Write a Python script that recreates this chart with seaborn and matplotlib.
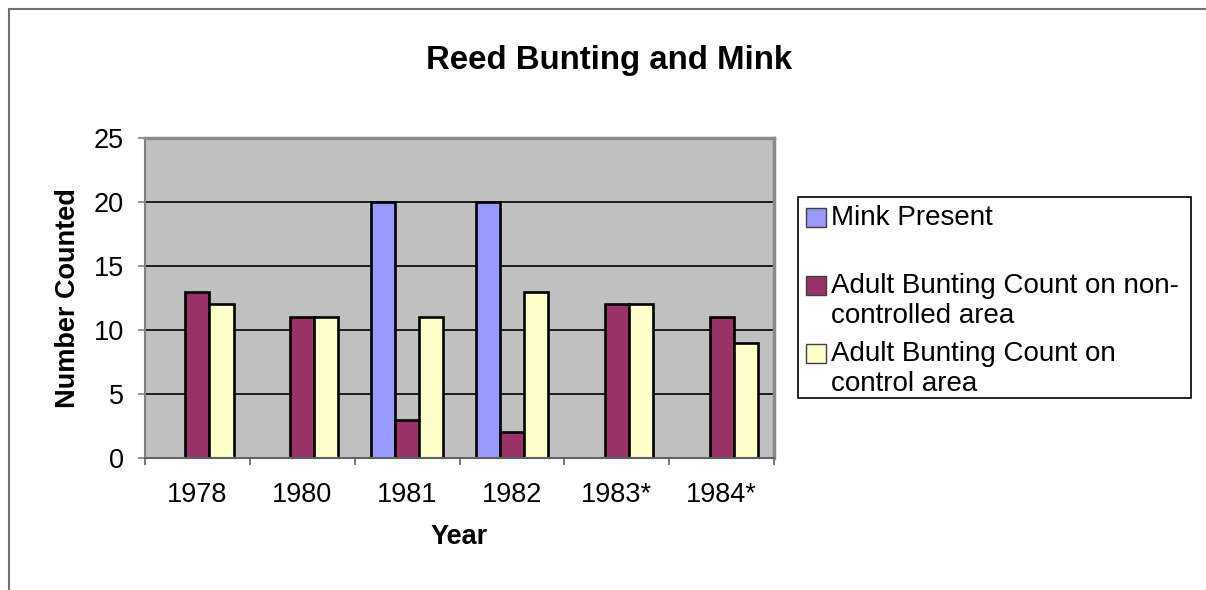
import matplotlib
matplotlib.use("Agg")
import matplotlib.pyplot as plt
import numpy as np
import pandas as pd
import seaborn as sns
from matplotlib.patches import Rectangle
from matplotlib.legend_handler import HandlerPatch

# ---- data ----
years = ["1978", "1980", "1981", "1982", "1983*", "1984*"]
mink_present = [np.nan, np.nan, 20, 20, np.nan, np.nan]
count_non_controlled = [13, 11, 3, 2, 12, 11]
count_control = [12, 11, 11, 13, 12, 9]

series_names = [
    "Mink Present",
    "Adult Bunting Count on non-controlled area",
    "Adult Bunting Count on control area",
]
legend_labels = [
    "Mink Present\n",
    "Adult Bunting Count on non-\ncontrolled area",
    "Adult Bunting Count on\ncontrol area",
]
series_colors = ["#9999FF", "#993366", "#FFFFCC"]

df = pd.DataFrame({
    "Year": years * 3,
    "Series": np.repeat(series_names, len(years)),
    "Count": mink_present + count_non_controlled + count_control,
})

sns.set_style("white")
plt.rcParams["font.family"] = ["Liberation Sans", "DejaVu Sans"]
plt.rcParams["text.color"] = "black"
plt.rcParams["axes.labelcolor"] = "black"
plt.rcParams["xtick.color"] = "black"
plt.rcParams["ytick.color"] = "black"

W, H = 1206, 590
fig = plt.figure(figsize=(W / 100, H / 100), dpi=100)

# outer chart-area border
fig.add_artist(Rectangle((8.5 / W, -0.05), 1.2, 1 - 8.5 / H + 0.05,
                         transform=fig.transFigure, fill=False,
                         edgecolor="#707070", lw=1.5))

ax = fig.add_axes([145 / W, 132 / H, 629 / W, 320 / H])
ax.set_facecolor("#C0C0C0")

sns.barplot(data=df, x="Year", y="Count", hue="Series",
            order=years, hue_order=series_names, palette=series_colors,
            width=0.69, gap=0, saturation=1, errorbar=None,
            edgecolor="black", linewidth=1.9, legend=False, ax=ax)

ax.set_xlim(-0.5, len(years) - 0.5)
ax.set_ylim(0, 25)
ax.set_yticks(np.arange(0, 26, 5))
ax.yaxis.grid(True, color="black", lw=1.2)
ax.xaxis.grid(False)
ax.set_axisbelow(True)

for side in ["top", "right"]:
    ax.spines[side].set_color("#8a8a8a")
    ax.spines[side].set_linewidth(2.5)
ax.spines["left"].set_color("#808080")
ax.spines["left"].set_linewidth(1.5)
ax.spines["bottom"].set_color("#606060")
ax.spines["bottom"].set_linewidth(1.5)

ax.tick_params(axis="y", which="major", length=5, width=1.2, color="#808080",
               labelsize=19.5, pad=10, labelcolor="black", left=True)
ax.tick_params(axis="x", which="major", length=0, labelsize=19.5, pad=17,
               labelcolor="black")
ax.set_xticks(np.arange(-0.5, len(years)), minor=True)
ax.tick_params(axis="x", which="minor", length=5, width=1.2, color="#606060",
               bottom=True)

ax.set_xlabel("Year", fontsize=19.5, fontweight="bold", color="black")
ax.set_ylabel("Number Counted", fontsize=19.5, fontweight="bold",
              color="black")
ax.xaxis.set_label_coords(0.5, -0.206)
ax.yaxis.set_label_coords(-0.102, 0.5)

fig.text(609.5 / W, 1 - 69 / H, "Reed Bunting and Mink", ha="center",
         va="baseline", fontsize=23.8, fontweight="bold", color="black")


class FirstLineSquare(HandlerPatch):
    """Legend square aligned with the first line of a two-line label."""

    def __init__(self, lift, **kw):
        super().__init__(**kw)
        self.lift = lift

    def create_artists(self, legend, orig_handle, xdescent, ydescent,
                       width, height, fontsize, trans):
        p = Rectangle((-xdescent, -ydescent + self.lift * fontsize),
                      width, height,
                      facecolor=orig_handle.get_facecolor(),
                      edgecolor="#404040", lw=1.0)
        p.set_transform(trans)
        return [p]


handles = [Rectangle((0, 0), 1, 1, facecolor=c) for c in series_colors]
handler = FirstLineSquare(lift=0.57)
leg = ax.legend(handles, legend_labels, loc="upper left",
                bbox_to_anchor=(798 / W, 1 - 197 / H),
                bbox_transform=fig.transFigure, borderaxespad=0,
                fontsize=20.0, frameon=False,
                handlelength=0.7, handleheight=0.7, handletextpad=0.2,
                borderpad=0.3, labelspacing=0.45,
                handler_map={Rectangle: handler})
for t in leg.get_texts():
    t.set_linespacing(1.17)
    t.set_color("black")

# legend box outline
fig.add_artist(Rectangle((798 / W, 1 - 398 / H), 393 / W, 201 / H,
                         transform=fig.transFigure, fill=False,
                         edgecolor="black", lw=1.2, zorder=0))

fig.savefig("out.png", dpi=100, facecolor="white")
